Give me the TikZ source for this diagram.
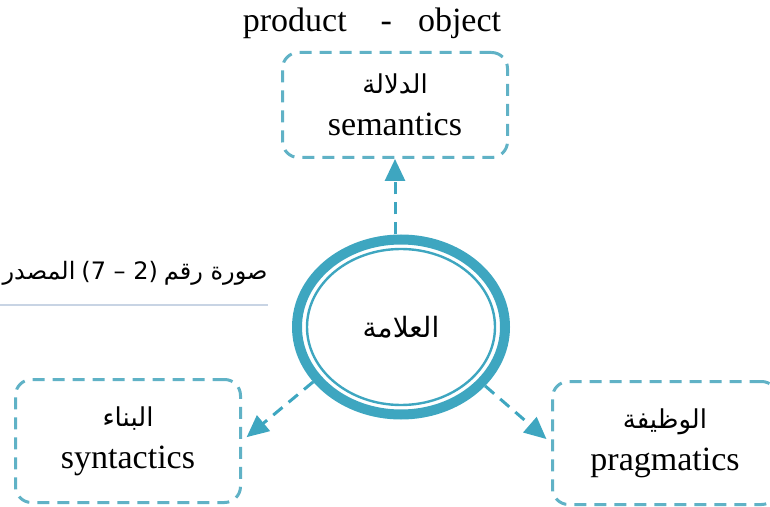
\documentclass[tikz,border=0pt]{standalone}
\usepackage{fontspec}
\setmainfont{Liberation Serif}
\newfontfamily\arabicfont[Script=Arabic]{DejaVu Sans}
\newfontfamily\digitfont{DejaVu Sans}
\TeXXeTstate=1
\usetikzlibrary{arrows.meta,shapes.geometric}

\definecolor{ringteal}{RGB}{62,166,192}
\definecolor{dashteal}{RGB}{96,178,198}
\definecolor{rulegray}{RGB}{200,212,228}

\newcommand{\arabictxt}[1]{{\arabicfont\fontsize{13}{21}\selectfont\beginR #1\endR}}

\tikzset{
  termbox/.style={draw=dashteal, line width=1.5pt, dash pattern=on 6pt off 4pt,
    rounded corners=8pt, minimum width=112.5pt, align=center,
    font=\fontsize{17}{21}\selectfont},
  signarrow/.style={draw=ringteal, line width=1.5pt, dash pattern=on 6pt off 4pt,
    -{Triangle[length=11pt,width=10pt]}},
}

\begin{document}
\begin{tikzpicture}[x=0.5pt,y=-0.5pt]
\clip (0,0) rectangle (770,507);
% heading
\node (title) at (372,32) [anchor=base, inner sep=0, font=\fontsize{17}{21}\selectfont]
  {product\hspace{17pt}-\hspace{13pt}object};
% the three boxes
\node (sem) at (395,105) [termbox, minimum height=52.5pt] {\arabictxt{الدلالة}\\semantics};
\node (syn) at (128,441) [termbox, minimum height=61.5pt] {\arabictxt{البناء}\\syntactics};
\node (prag) at (665,443) [termbox, minimum height=61.5pt] {\arabictxt{الوظيفة}\\pragmatics};
% the sign
\node (sign) at (401,327) [ellipse, draw=ringteal, line width=5pt, inner sep=0,
  minimum width=104pt, minimum height=87.5pt]
  {{\arabicfont\fontsize{14}{16}\selectfont\beginR العلامة\endR}};
\draw[ringteal, line width=1.2pt] (sign.center) ellipse [x radius=47pt, y radius=39pt];
% arrows
\draw[signarrow] (sign.north -| sem.south) -- (sem.south);
\draw[signarrow, shorten >=3pt] (sign.212) -- (syn.east);
\draw[signarrow, shorten >=3pt] (sign.325) -- (prag.west);
% caption
\node (cap) at (268,273) [anchor=east, inner sep=0, font=\fontsize{12}{14}\selectfont]
  {{\arabicfont المصدر} {\digitfont(7 – 2)} {\arabicfont\beginR صورة رقم\endR}};
\coordinate (ruleL) at (0,305);
\draw[rulegray, line width=0.6pt] (ruleL) -- (ruleL -| cap.east);
\end{tikzpicture}
\end{document}
